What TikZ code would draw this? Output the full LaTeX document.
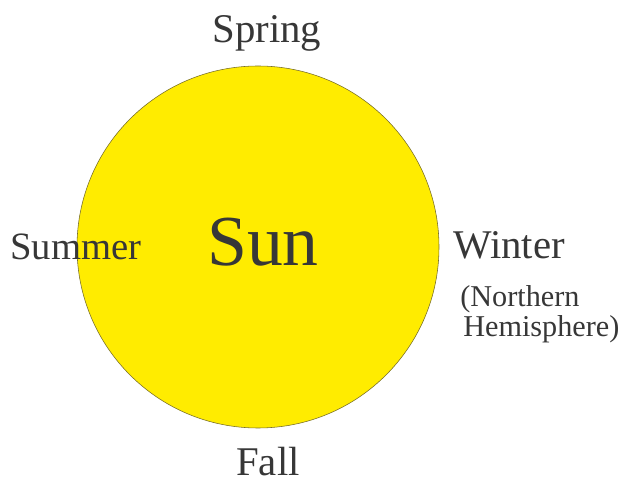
\documentclass[tikz,border=0pt]{standalone}
\usepackage{fontspec}
\setmainfont{Liberation Serif}
\definecolor{sunyellow}{RGB}{255,236,0}
\definecolor{sunedge}{RGB}{120,110,40}
\definecolor{labelgray}{RGB}{55,55,55}

\begin{document}
\begin{tikzpicture}[x=0.025cm, y=-0.025cm,
    season/.style={text=labelgray, inner sep=0pt, font=\fontsize{29}{34}\selectfont},
    note/.style={text=labelgray, inner sep=0pt, font=\fontsize{21.5}{26}\selectfont}]

  \useasboundingbox (0, 0) rectangle (626, 484);

  % Sun disc
  \filldraw[fill=sunyellow, draw=sunedge, line width=0.4pt] (258, 247) circle[radius=181];
  \node[text=labelgray, inner sep=0pt, anchor=base, font=\fontsize{51}{60}\selectfont] (sun) at (263, 266) {Sun};

  % Seasons round the orbit
  \node[season, anchor=base] (spring) at (267, 43) {Spring};
  \node[season, anchor=base west, font=\fontsize{27.5}{32}\selectfont] (summer) at (10, 260) {Summer};
  \node[season, anchor=base west] (winter) at (453, 259) {Winter};
  \node[season, anchor=base] (fall) at (268, 476) {Fall};

  % Hemisphere note
  \node[note, anchor=base west] (north) at (460, 307) {(Northern};
  \node[note, anchor=base west] (hemi) at (463, 337) {Hemisphere)};

\end{tikzpicture}
\end{document}
